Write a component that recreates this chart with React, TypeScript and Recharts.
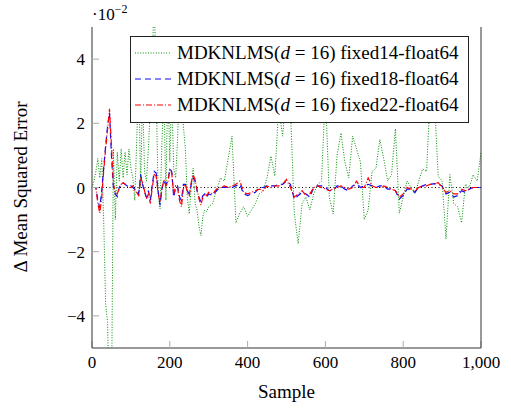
import React from 'react';
import { LineChart, Line, XAxis, YAxis, ReferenceLine, Legend } from 'recharts';

// x grid: every 5 samples up to 300, then every 10 samples
const samples: number[] = [
  ...Array.from({ length: 61 }, (_, i) => i * 5),
  ...Array.from({ length: 70 }, (_, i) => 310 + i * 10),
];

const fixed14: number[] = [
  0, 0.2, 0.5, 0.9, 0.3, 0.9, -1.0, -3.6, -4.2, -7, -7, 1.2, -1.0, 1.1, 0.2, 1.2, 0.3, 1.1, 0.4, 1.2, 0.6,
  0.3, -0.4, 1.5, 3.5, 0.0, 3.0, 0.5, 0.2, 1.2, 2.5, 4.0, 6.0, 3.0, -0.2, -0.67, 1.5, 3.0, -0.4, 3.5, 0.8,
  3.0, 0.6, 0.3, 1.5, 3.5, 3.0, 1.9, 1.2, -0.3, -0.82, 0.0, 0.6, -0.5, -0.7, -1.2, -1.5, -0.9, -0.7, -0.75, -0.6,
  -0.5, -0.1, 0.3, 0.2, 0.9, 1.6, -1.1, -0.8, -0.6, -0.9,
  -0.7, -0.5, -0.2, -0.1, 0.3, 0.98, 0.36, 2.5, 1.6, 3.0,
  2.5, -0.8, -1.75, -0.5, -0.3, -0.7, -0.2, 0.1, 0.2, 3.0,
  -0.3, -0.82, 1.0, 1.7, 0.8, 0.3, 1.6, 1.2, 0.8, -1.0,
  -0.7, 0.5, 0.6, 1.5, 0.9, 0.2, 0.4, 1.83, -0.8, -0.3,
  0.2, 0.0, -0.2, 0.2, 0.58, 0.5, 3.0, 2.8, 0.35, 0.2,
  -1.6, 0.4, -0.5, -0.6, -1.1, 0.1, 0.0, 0.4, 0.2, 1.08,
];

const fixed18: number[] = [
  0, 0, 0, -0.4, -0.63, -0.1, 0.6, 1.3, 1.9, 2.33, 1.0, 0.0, -0.2, -0.28, 0.0, 0.1, 0.15, 0.1, 0.05, 0.0, 0.05,
  0.0, -0.05, -0.1, -0.2, 0.4, 0.1, -0.15, -0.3, -0.1, -0.4, 0.1, 0.5, 0.45, -0.1, -0.55, 0.0, 0.2, 0.1, 0.2, 0.58,
  0.5, -0.3, 0.0, 0.05, -0.3, -0.4, 0.1, 0.1, -0.1, -0.2, 0.1, 0.3, 0.2, -0.1, -0.3, -0.45, -0.25, -0.2, -0.3, -0.2,
  -0.25, -0.1, 0, 0, 0, 0, 0.05, 0.1, -0.2, -0.25,
  -0.2, -0.15, 0, 0, 0.05, 0.05, 0.05, 0.1, 0.1, 0.2,
  0.1, -0.36, -0.25, -0.15, -0.2, -0.3, 0, 0.05, 0.05, 0,
  -0.1, -0.1, 0.05, 0.05, -0.05, -0.1, 0.05, 0.1, 0, 0.05,
  0.1, 0.05, 0, 0.05, 0.05, -0.05, -0.05, -0.1, -0.36, -0.25,
  -0.05, -0.05, -0.15, 0, 0.05, 0.1, 0.1, 0.12, 0.1, 0.05,
  -0.2, -0.15, -0.3, -0.25, -0.1, -0.15, -0.05, 0, 0, 0,
];

const fixed22: number[] = [
  0, 0, 0, -0.5, -0.8, -0.3, 0.5, 1.2, 1.8, 2.45, 1.3, 0.1, -0.15, -0.2, 0.0, 0.1, 0.15, 0.1, 0.05, 0.0, 0.0,
  0.05, -0.1, -0.15, -0.25, 0.3, 0.15, -0.1, -0.35, -0.2, -0.5, 0.0, 0.4, 0.35, -0.2, -0.45, -0.05, 0.25, 0.05, 0.15, 0.55,
  0.45, -0.2, 0.05, 0.0, -0.4, -0.6, 0.0, 0.1, -0.15, -0.25, 0.15, 0.4, 0.25, -0.05, -0.35, -0.55, -0.3, -0.2, -0.25, -0.15,
  -0.2, -0.05, 0, 0.05, 0, 0.05, 0.1, 0.2, -0.15, -0.2,
  -0.15, -0.1, -0.05, -0.1, 0.05, 0, 0.05, 0.05, 0.1, 0.25,
  0, -0.3, -0.2, -0.1, -0.25, -0.2, 0, 0.05, 0, -0.05,
  -0.1, -0.05, 0, 0.05, 0, -0.05, 0, 0.2, 0, 0,
  0.3, 0.05, 0, 0, 0.05, 0, -0.05, -0.1, -0.3, -0.2,
  0, -0.05, -0.1, 0, 0.05, 0.05, 0.1, 0.12, 0.15, 0,
  -0.15, -0.1, -0.2, -0.2, -0.05, -0.1, -0.05, 0, 0, 0,
];

const xTicks = [0, 200, 400, 600, 800, 1000];
const yTicks = [-4, -2, 0, 2, 4];

const seriesNames = [
  'fixed14-float64',
  'fixed18-float64',
  'fixed22-float64',
];

const rows = samples.map((s, i) => ({
  sample: s,
  f14: fixed14[i],
  f18: fixed18[i],
  f22: fixed22[i],
}));

const GREEN = '#008f00';
const BLUE = '#0a0aff';
const RED = '#ff0000';
const FONT = 'serif';

const legendItems = [
  { name: seriesNames[0], color: GREEN, dash: '1 1.6' },
  { name: seriesNames[1], color: BLUE, dash: '6 4' },
  { name: seriesNames[2], color: RED, dash: '6 2 1 2' },
];

const LegendBox = () => (
  <div
    style={{
      width: 337,
      height: 82,
      border: '1px solid #222',
      background: '#fff',
      boxSizing: 'content-box',
      paddingTop: 3,
      fontFamily: FONT,
      fontSize: 19,
      color: '#000',
    }}
  >
    {legendItems.map((it) => (
      <div key={it.name} style={{ height: 26, display: 'flex', alignItems: 'center', whiteSpace: 'nowrap' }}>
        <svg width={46} height={26} style={{ flex: 'none' }}>
          <line x1={4} y1={13} x2={40} y2={13} stroke={it.color} strokeWidth={1} strokeDasharray={it.dash} />
        </svg>
        <span>
          MDKNLMS(<i>d</i> = 16) {it.name}
        </span>
      </div>
    ))}
  </div>
);

const fmtX = (v: number) => v.toLocaleString('en-US');
const fmtY = (v: number) => (v < 0 ? '\u2212' + Math.abs(v) : String(v));

export default function App() {
  return (
    <div style={{ position: 'absolute', left: 0, top: 0, width: 511, height: 409, background: '#fff', fontFamily: FONT }}>
      <LineChart width={511} height={409} data={rows} margin={{ top: 27, right: 0, bottom: 0, left: 0 }} style={{ fontFamily: FONT }}>
        <XAxis
          xAxisId="b"
          dataKey="sample"
          type="number"
          domain={[0, 1000]}
          ticks={xTicks}
          orientation="bottom"
          height={61}
          tickSize={-7}
          tickMargin={15}
          tickFormatter={fmtX}
          tick={{ fill: '#000', fontSize: 17, fontFamily: FONT }}
          tickLine={{ stroke: '#aaa' }}
          axisLine={{ stroke: '#333' }}
          label={{ value: 'Sample', position: 'insideBottom', offset: 11, fill: '#000', fontSize: 19, fontFamily: FONT }}
        />
        <XAxis
          xAxisId="t"
          dataKey="sample"
          type="number"
          domain={[0, 1000]}
          ticks={xTicks}
          orientation="top"
          height={0}
          tickSize={-7}
          tick={false}
          tickLine={{ stroke: '#aaa' }}
          axisLine={{ stroke: '#333' }}
        />
        <YAxis
          yAxisId="l"
          type="number"
          domain={[-5, 5]}
          allowDataOverflow
          ticks={yTicks}
          width={92}
          tickSize={-7}
          tickMargin={14}
          tickFormatter={fmtY}
          tick={{ fill: '#000', fontSize: 17, fontFamily: FONT }}
          tickLine={{ stroke: '#aaa' }}
          axisLine={{ stroke: '#333' }}
        />
        <YAxis
          yAxisId="r"
          orientation="right"
          type="number"
          domain={[-5, 5]}
          allowDataOverflow
          ticks={yTicks}
          width={30}
          tickSize={-7}
          tick={false}
          tickLine={{ stroke: '#aaa' }}
          axisLine={{ stroke: '#333' }}
        />
        <ReferenceLine xAxisId="b" yAxisId="l" y={0} stroke="#000" strokeDasharray="1 2.5" />
        <Line xAxisId="b" yAxisId="l" dataKey="f14" stroke={GREEN} strokeWidth={1} strokeDasharray="1 1.6" dot={false} isAnimationActive={false} />
        <Line xAxisId="b" yAxisId="l" dataKey="f18" stroke={BLUE} strokeWidth={1.2} strokeDasharray="6 4" dot={false} isAnimationActive={false} />
        <Line xAxisId="b" yAxisId="l" dataKey="f22" stroke={RED} strokeWidth={1.2} strokeDasharray="6 2 1 2" dot={false} isAnimationActive={false} />
        <Legend
          layout="vertical"
          align="center"
          verticalAlign="middle"
          content={() => <LegendBox />}
          wrapperStyle={{ position: 'absolute', left: 130, top: 36, width: 339, height: 86 }}
        />
      </LineChart>
      <svg width={511} height={409} style={{ position: 'absolute', left: 0, top: 0, pointerEvents: 'none' }}>
        <text x={92} y={20} fontFamily={FONT} fontSize={17} fill="#000">
          ·10
          <tspan dy={-7} fontSize={12}>
            −2
          </tspan>
        </text>
        <text
          transform="translate(27,187) rotate(-90)"
          textAnchor="middle"
          fontFamily={FONT}
          fontSize={19}
          fill="#000"
        >
          Δ Mean Squared Error
        </text>
      </svg>
    </div>
  );
}
